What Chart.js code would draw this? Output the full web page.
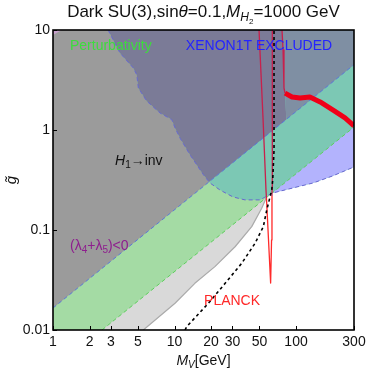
<!DOCTYPE html>
<html>
<head>
<meta charset="utf-8">
<script src="https://cdn.jsdelivr.net/npm/chart.js@4.4.1/dist/chart.umd.min.js"></script>
<style>
body { margin: 0; background: #fff; }
#wrap { width: 366px; height: 372px; }
</style>
</head>
<body>
<div id="wrap"><canvas id="c" width="366" height="372"></canvas></div>
<script>
// ticks
const xTicks = [1, 2, 3, 5, 10, 20, 30, 50, 100, 300];
const yTicks = [0.01, 0.1, 1, 10];

// boundaries, points are [M_V, g]
const lambdaLine = [[1, 0.0166], [300, 4.5]];
const perturbLine = [[2.53, 0.01], [300, 1.07]];
const xenonCurve = [[2.84, 10], [3.56, 5.89], [4.58, 4.17], [4.89, 3.57], [5.04, 2.63], [5.9, 1.95],
  [7.6, 1.48], [9.49, 1.27], [10.1, 1.05], [11.1, 0.83], [13.4, 0.566], [17.3, 0.357], [19.6, 0.295],
  [23.7, 0.251], [30.3, 0.214], [38, 0.2], [50.6, 0.2], [63.1, 0.233], [100, 0.268], [138, 0.295],
  [200, 0.347], [300, 0.427]];
const grayCurve = [[5.54, 0.01], [10.1, 0.0185], [14.7, 0.0293], [21.5, 0.043], [31.5, 0.068],
  [43.2, 0.108], [52.2, 0.165], [57.4, 0.215]];
const blackCurve = [[12.2, 0.01], [12.6, 0.0108], [19, 0.0185], [26.1, 0.0293], [35.7, 0.0464],
  [46, 0.0736], [53.8, 0.108], [57.4, 0.158], [63.1, 0.251], [64.3, 0.316], [65.9, 0.63], [65.9, 10]];
const planckLeftTop = [[49.6, 10], [53.5, 1.32], [56.6, 0.251], [57.1, 0.209]];
const planckFunnel = [[57.1, 0.209], [61.8, 0.0295], [62.9, 0.0794], [63.4, 0.219]];
const planckRightTop = [[63.4, 0.219], [63.5, 0.251], [64.1, 1.585], [63.5, 10]];
const planckHigh = [[76.7, 10], [78.2, 6.31], [79.6, 2.63], [81.2, 2.34]];
const planckBand = [[81.2, 2.34], [92.7, 2.14], [108, 2.09], [130, 2.14], [158, 1.91], [202, 1.58],
  [253, 1.32], [300, 1.1]];
const cornerPatch = [[1, 10], [1.18, 10], [1, 8.9]];
const frameBox = [[1, 0.01], [300, 0.01], [300, 10], [1, 10]];

const plotLabels = [
  { parts: [['Perturbativity']], at: [1.38, 6.31], color: '#3ddc3d' },
  { parts: [['XENON1T EXCLUDED']], at: [12.4, 6.31], color: '#2424ff' },
  { parts: [['H', 14, 'italic'], ['1', 10, '', 3], ['\u2192inv']], at: [3.24, 0.447], color: '#111' },
  { parts: [['(\u03bb'], ['4', 10, '', 3], ['+\u03bb'], ['5', 10, '', 3], [')<0']], at: [1.38, 0.063], color: '#8e1e8e' },
  { parts: [['PLANCK']], at: [17.5, 0.0178], color: '#ff2828' }
];

const FONT = "'Liberation Sans', Arial, sans-serif";
const lg = Math.log10;

// keep the part of a polygon on one side of the line p1-p2 (log-log space)
function clipHalf(poly, p1, p2, sign) {
  const a = [lg(p1[0]), lg(p1[1])], b = [lg(p2[0]), lg(p2[1])];
  const side = p => sign * ((b[0] - a[0]) * (lg(p[1]) - a[1]) - (b[1] - a[1]) * (lg(p[0]) - a[0]));
  const out = [];
  for (let i = 0; i < poly.length; i++) {
    const p = poly[i], q = poly[(i + 1) % poly.length];
    const sp = side(p), sq = side(q);
    if (sp >= 0) out.push(p);
    if ((sp >= 0) !== (sq >= 0)) {
      const t = sp / (sp - sq);
      const X = lg(p[0]) + t * (lg(q[0]) - lg(p[0]));
      const Y = lg(p[1]) + t * (lg(q[1]) - lg(p[1]));
      out.push([Math.pow(10, X), Math.pow(10, Y)]);
    }
  }
  return out;
}

const xenonPoly = xenonCurve.concat([[300, 10]]);
const lightGray = [[1, 0.01]].concat(grayCurve, [[1, 10]]);
const greenPoly = clipHalf(frameBox, perturbLine[0], perturbLine[1], 1);
const grayPoly = clipHalf(frameBox, lambdaLine[0], lambdaLine[1], 1);
const xenonLow = clipHalf(xenonPoly, perturbLine[0], perturbLine[1], -1);
const xenonHigh = clipHalf(xenonPoly, lambdaLine[0], lambdaLine[1], 1);
const xenonHighL = clipHalf(xenonHigh, planckHigh[0], planckBand[0], -1);
const xenonHighR = clipHalf(xenonHigh, planckHigh[0], planckBand[0], 1);

function toXY(pts) { return pts.map(p => ({ x: p[0], y: p[1] })); }
function area(pts, color) {
  return { data: toXY(pts), showLine: true, fill: 'shape', backgroundColor: color,
    borderColor: 'rgba(0,0,0,0)', borderWidth: 0, pointRadius: 0 };
}
function curve(pts, color, width, dash) {
  return { data: toXY(pts), showLine: true, fill: false, borderColor: color, borderWidth: width,
    borderDash: dash || [], pointRadius: 0, borderJoinStyle: 'round' };
}

const sets = [
  area(lightGray, '#d9d9d9'),
  area(greenPoly, '#a4dba4'),
  area(grayPoly, '#9b9b9b'),
  area(cornerPatch, '#c8a2cc'),
  area(xenonPoly, '#7cc8b4'),
  area(xenonLow, '#b3b3fd'),
  area(xenonHighL, '#7b7b97'),
  area(xenonHighR, '#7f8fa3'),
  curve(grayCurve, '#aaaaaa', 1.2),
  curve(perturbLine, '#5ccf5c', 1, [4, 3]),
  curve(lambdaLine, '#5a78d8', 1, [4, 3]),
  curve(xenonCurve, '#6868d0', 1, [4, 3]),
  curve(planckLeftTop, '#c8204c', 1.3),
  curve(planckRightTop, '#c8204c', 1.3),
  curve(planckHigh, '#c8204c', 1.3),
  curve(planckFunnel, '#ff2a2a', 1.3),
  curve(blackCurve, '#000000', 1.6, [3, 3]),
  curve(planckBand, '#f00018', 5)
];
sets.forEach((s, i) => { s.order = sets.length - i; });

function richText(ctx, parts, x, y, color, align) {
  const fontOf = p => (p[2] || '') + ' ' + (p[1] || 14) + 'px ' + FONT;
  let w = 0;
  parts.forEach(p => { ctx.font = fontOf(p); w += ctx.measureText(p[0]).width; });
  let cx = align === 'center' ? x - w / 2 : x;
  ctx.fillStyle = color;
  ctx.textAlign = 'left';
  ctx.textBaseline = 'alphabetic';
  parts.forEach(p => {
    ctx.font = fontOf(p);
    ctx.fillText(p[0], cx, y + (p[3] || 0));
    cx += ctx.measureText(p[0]).width;
  });
}

const deco = {
  id: 'deco',
  afterDatasetsDraw(chart) {
    const { ctx, chartArea: a, scales: { x, y } } = chart;
    ctx.save();
    ctx.strokeStyle = '#000';
    ctx.lineWidth = 1;
    ctx.beginPath();
    x.ticks.forEach(t => {
      const px = Math.round(x.getPixelForValue(t.value)) + 0.5;
      ctx.moveTo(px, a.bottom);
      ctx.lineTo(px, a.bottom - 4);
    });
    y.ticks.forEach(t => {
      const py = Math.round(y.getPixelForValue(t.value)) + 0.5;
      ctx.moveTo(a.left, py);
      ctx.lineTo(a.left + 4, py);
    });
    ctx.stroke();
    ctx.lineWidth = 1.6;
    ctx.strokeRect(a.left, a.top, a.right - a.left, a.bottom - a.top);

    plotLabels.forEach(l => richText(ctx, l.parts, x.getPixelForValue(l.at[0]),
      y.getPixelForValue(l.at[1]), l.color, 'left'));

    const cx = (a.left + a.right) / 2;
    richText(ctx, [['Dark SU(3),sin', 17], ['\u03b8', 17, 'italic'], ['=0.1,', 17], ['M', 17, 'italic'],
      ['H', 12, 'italic', 4], ['2', 8, '', 7], ['=1000 GeV', 17]], cx, 17, '#111', 'center');
    richText(ctx, [['M', 14, 'italic'], ['V', 10, 'italic', 3], ['[GeV]', 14]], cx, 365, '#111', 'center');

    ctx.translate(16, (a.top + a.bottom) / 2);
    ctx.rotate(-Math.PI / 2);
    richText(ctx, [['g\u0303', 15, 'italic']], 0, 0, '#111', 'center');
    ctx.restore();
  }
};

new Chart(document.getElementById('c'), {
  type: 'scatter',
  data: { datasets: sets },
  options: {
    responsive: false,
    animation: false,
    layout: { padding: { top: 30, right: 12, left: 0, bottom: 0 } },
    plugins: { legend: { display: false }, tooltip: { enabled: false } },
    scales: {
      x: {
        type: 'logarithmic', min: 1, max: 300,
        afterBuildTicks: s => { s.ticks = xTicks.map(v => ({ value: v })); },
        afterFit: s => { s.height = 42; s.paddingLeft = 0; s.paddingRight = 0; },
        grid: { display: false, drawTicks: false },
        border: { display: false },
        ticks: { autoSkip: false, maxRotation: 0, padding: 4, color: '#111',
          font: { family: FONT, size: 14 }, callback: v => String(v) }
      },
      y: {
        type: 'logarithmic', min: 0.01, max: 10,
        afterBuildTicks: s => { s.ticks = yTicks.map(v => ({ value: v })); },
        afterFit: s => { s.width = 53; s.paddingTop = 0; s.paddingBottom = 0; },
        grid: { display: false, drawTicks: false },
        border: { display: false },
        ticks: { autoSkip: false, padding: 3, color: '#111',
          font: { family: FONT, size: 14 }, callback: v => String(v) }
      }
    }
  },
  plugins: [deco]
});
</script>
</body>
</html>
